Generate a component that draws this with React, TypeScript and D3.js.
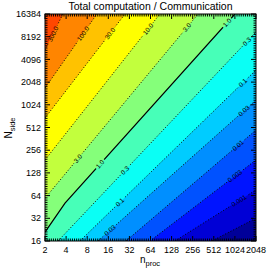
import React, { useEffect, useRef } from 'react';
import * as d3 from 'd3';

// axis tick values
const nProcTicks = [2, 4, 8, 16, 32, 64, 128, 256, 512, 1024, 2048];
const nSideTicks = [16, 32, 64, 128, 256, 512, 1024, 2048, 4096, 8192, 16384];

// contour levels, lowest first, and the text printed on each
const levels = [0.0003, 0.001, 0.003, 0.01, 0.03, 0.1, 0.3, 1, 3, 10, 30, 100, 300];
const levelLabels = ['0.0003', '0.001', '0.003', '0.01', '0.03', '0.1', '0.3', '1.0', '3.0', '10.0', '30.0', '100.0', '300.0'];

// contour paths as [n_proc, N_side], edge to edge
const contour0003 = [[480, 16], [2048, 32]];
const contour001 = [[143, 16], [2048, 76]];
const contour003 = [[63, 16], [2048, 190]];
const contour01 = [[28.6, 16], [2048, 474]];
const contour03 = [[11.4, 16], [2048, 1185]];
const contour1 = [[6.3, 16], [2048, 2960]];
const contour3 = [[3.07, 16], [2048, 9470]];
const contour10 = [[2, 21], [3.86, 51], [1024, 16384]];
const contour30 = [[2, 59], [305, 16384]];
const contour100 = [[2, 190], [87, 16384]];
const contour300 = [[2, 685], [27.7, 16384]];
const contour1000 = [[2, 1710], [11, 16384]];
const contour3000 = [[2, 5440], [3.6, 16384]];

const contours = [
  contour0003, contour001, contour003, contour01, contour03, contour1, contour3,
  contour10, contour30, contour100, contour300, contour1000, contour3000
];

// n_proc values where each contour carries its label
const labelAt = [[], [1170], [1024], [1136], [1380, 16.9], [1330, 23.4], [1520, 27.7], [792, 12.2], [212, 5.9], [59], [16.9], [7.0], [2.6]];

const W = 270;
const H = 270;
const font = '"Liberation Sans", Arial, Helvetica, sans-serif';

// IDL / matplotlib style "jet"
const jet = (t: number) => {
  const c = (v: number) => Math.max(0, Math.min(1, v));
  const r = c(Math.min(4 * t - 1.5, -4 * t + 4.5));
  const g = c(Math.min(4 * t - 0.5, -4 * t + 3.5));
  const b = c(Math.min(4 * t + 0.5, -4 * t + 2.5));
  return d3.rgb(r * 255, g * 255, b * 255).formatHex();
};
const bandColor = (i: number) => jet(0.025 + 0.06 * i);

const App = () => {
  const svgRef = useRef<SVGSVGElement>(null);

  useEffect(() => {
    if (!svgRef.current) return;
    const svg = d3.select(svgRef.current);
    svg.selectAll('*').remove();

    const x = d3.scaleLog().base(2).domain([2, 2048]).range([45, 256]);
    const y = d3.scaleLog().base(2).domain([16, 16384]).range([241, 14]);
    const [x0, x1] = x.range();
    const [y0, y1] = y.range();

    const defs = svg.append('defs');
    defs.append('clipPath').attr('id', 'plotClip')
      .append('rect').attr('x', x0).attr('y', y1).attr('width', x1 - x0).attr('height', y0 - y1);

    const mask = defs.append('mask').attr('id', 'labelGaps')
      .attr('maskUnits', 'userSpaceOnUse')
      .attr('x', 0).attr('y', 0).attr('width', W).attr('height', H);
    mask.append('rect').attr('width', W).attr('height', H).attr('fill', '#fff');

    const plot = svg.append('g').attr('clip-path', 'url(#plotClip)');
    const line = d3.line<number[]>().x(d => x(d[0])).y(d => y(d[1]));

    // filled bands
    plot.append('rect')
      .attr('x', x0).attr('y', y1).attr('width', x1 - x0).attr('height', y0 - y1)
      .attr('fill', bandColor(0));
    contours.forEach((c, i) => {
      plot.append('path')
        .attr('d', line([...c, [2048, 16384], [2, 16384], [2, 16]]) + 'Z')
        .attr('fill', bandColor(i + 1));
    });

    // contour lines
    const lineG = plot.append('g').attr('mask', 'url(#labelGaps)');
    contours.forEach((c, i) => {
      const solid = levels[i] === 1;
      lineG.append('path')
        .attr('d', line(c))
        .attr('fill', 'none')
        .attr('stroke', '#000')
        .attr('stroke-width', solid ? 1.2 : 1)
        .attr('stroke-dasharray', solid ? null : '1,2');
    });

    // contour labels
    const labelG = svg.append('g');
    contours.forEach((c, i) => {
      const pts = c.map(p => [x(p[0]), y(p[1])]);
      labelAt[i].forEach(n => {
        const px = x(n);
        let k = 0;
        while (k < pts.length - 2 && pts[k + 1][0] < px) k++;
        const [ax, ay] = pts[k];
        const [bx, by] = pts[k + 1];
        const py = ay + ((px - ax) / (bx - ax)) * (by - ay);
        const ang = (Math.atan2(by - ay, bx - ax) * 180) / Math.PI;
        const tr = `translate(${px},${py}) rotate(${ang})`;
        const t = labelG.append('text')
          .attr('transform', tr)
          .attr('text-anchor', 'middle')
          .attr('dy', '0.35em')
          .attr('font-family', font)
          .attr('font-size', 6.5)
          .attr('fill', '#000')
          .text(levelLabels[i]);
        const w = (t.node() as SVGTextElement).getComputedTextLength();
        mask.append('rect')
          .attr('transform', tr)
          .attr('x', -w / 2 - 1.5).attr('y', -3)
          .attr('width', w + 3).attr('height', 6)
          .attr('fill', '#000');
      });
    });

    // frame and ticks
    const axes = svg.append('g').attr('stroke', '#000').attr('stroke-width', 1);
    axes.append('rect')
      .attr('x', x0).attr('y', y1).attr('width', x1 - x0).attr('height', y0 - y1)
      .attr('fill', 'none');

    const minor = (lo: number, hi: number) => {
      const out: number[] = [];
      for (let k = lo; k < hi; k++) for (let j = 1; j < 10; j++) out.push(Math.pow(2, k + j / 10));
      return out;
    };
    const xMinor = minor(1, 11);
    const yMinor = minor(4, 14);

    const tick = (xa: number, ya: number, xb: number, yb: number) =>
      axes.append('line').attr('x1', xa).attr('y1', ya).attr('x2', xb).attr('y2', yb);

    nProcTicks.forEach(v => { tick(x(v), y0, x(v), y0 - 5); tick(x(v), y1, x(v), y1 + 5); });
    xMinor.forEach(v => { tick(x(v), y0, x(v), y0 - 2.5); tick(x(v), y1, x(v), y1 + 2.5); });
    nSideTicks.forEach(v => { tick(x0, y(v), x0 + 5, y(v)); tick(x1, y(v), x1 - 5, y(v)); });
    yMinor.forEach(v => { tick(x0, y(v), x0 + 2.5, y(v)); tick(x1, y(v), x1 - 2.5, y(v)); });

    const txt = svg.append('g').attr('font-family', font).attr('fill', '#000');
    nProcTicks.forEach(v => {
      txt.append('text').attr('x', x(v)).attr('y', 253).attr('text-anchor', 'middle')
        .attr('font-size', 9).text(v);
    });
    nSideTicks.forEach(v => {
      txt.append('text').attr('x', 41).attr('y', y(v)).attr('dy', '0.35em').attr('text-anchor', 'end')
        .attr('font-size', 9).text(v);
    });

    // title and axis titles
    txt.append('text').attr('x', (x0 + x1) / 2).attr('y', 10).attr('text-anchor', 'middle')
      .attr('font-size', 10.5).text('Total computation / Communication');

    const xt = txt.append('text').attr('x', 150).attr('y', 263).attr('text-anchor', 'middle').attr('font-size', 10);
    xt.append('tspan').text('n');
    xt.append('tspan').attr('font-size', 7.5).attr('dy', 3).text('proc');

    const yt = txt.append('text').attr('transform', 'translate(12,128) rotate(-90)')
      .attr('text-anchor', 'middle').attr('font-size', 10);
    yt.append('tspan').text('N');
    yt.append('tspan').attr('font-size', 7.5).attr('dy', 3).text('side');
  }, []);

  return (
    <svg ref={svgRef} width={W} height={H}
      style={{ position: 'absolute', left: 0, top: 0, background: '#fff' }} />
  );
};

export default App;
